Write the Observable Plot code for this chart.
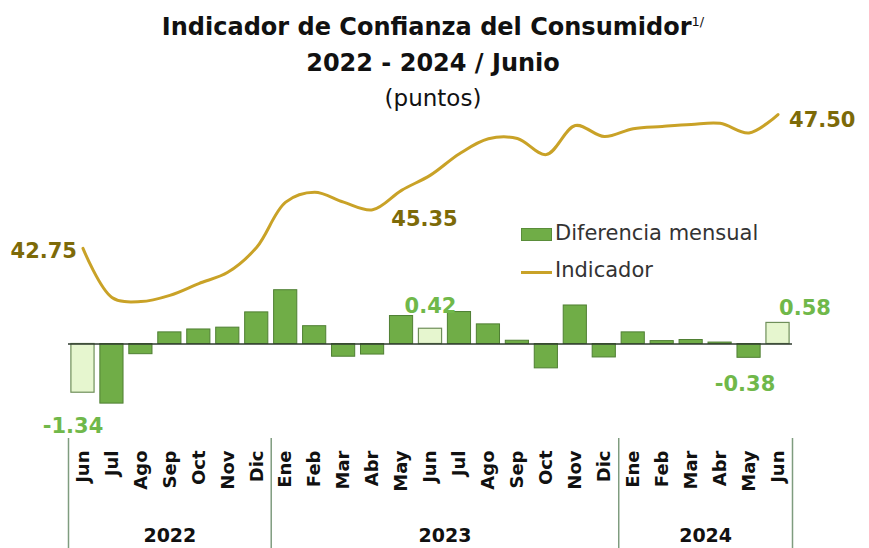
<!DOCTYPE html>
<html><head><meta charset="utf-8">
<script src="https://cdn.jsdelivr.net/npm/d3@7"></script>
<script src="https://cdn.jsdelivr.net/npm/@observablehq/plot@0.6"></script>
<style>
body{margin:0;background:#fff;}
#wrap{position:relative;width:869px;height:548px;overflow:hidden;}
#title{position:absolute;left:0;top:4px;width:866px;text-align:center;font-family:"DejaVu Sans",sans-serif;color:#111;}
#title .t{font-weight:bold;font-size:24px;line-height:36px;}
#title .s{font-size:23px;line-height:34px;}
#title sup{font-size:13px;vertical-align:9px;font-weight:normal;}
#chart{position:absolute;left:0;top:0;}
.lg{position:absolute;font-family:"DejaVu Sans",sans-serif;font-size:21px;color:#333;}
</style></head>
<body>
<div id="wrap">
  <div id="chart"></div>
  <div id="title">
    <div class="t">Indicador de Confianza del Consumidor<sup>1/</sup></div>
    <div class="t">2022 - 2024 / Junio</div>
    <div class="s">(puntos)</div>
  </div>
  <div class="lg" style="left:521px;top:228px;width:31px;height:13px;background:#70ad47;border:1px solid #5a8d3a;box-sizing:border-box;"></div>
  <div class="lg" style="left:555px;top:221px;">Diferencia mensual</div>
  <div class="lg" style="left:521px;top:271px;width:31px;height:3px;background:#c9a227;"></div>
  <div class="lg" style="left:555px;top:258px;">Indicador</div>
</div>
<script>
const months = ["Jun","Jul","Ago","Sep","Oct","Nov","Dic","Ene","Feb","Mar","Abr","May","Jun","Jul","Ago","Sep","Oct","Nov","Dic","Ene","Feb","Mar","Abr","May","Jun"];
const years = [2022,2022,2022,2022,2022,2022,2022,2023,2023,2023,2023,2023,2023,2023,2023,2023,2023,2023,2023,2024,2024,2024,2024,2024,2024];
const diferencia = [-1.34,-1.64,-0.28,0.32,0.40,0.45,0.87,1.48,0.49,-0.35,-0.29,0.77,0.42,0.88,0.54,0.09,-0.67,1.06,-0.37,0.32,0.08,0.11,0.04,-0.38,0.58];
const indicador = [42.75,41.01,40.86,41.08,41.50,41.90,42.79,44.39,44.74,44.39,44.12,44.81,45.35,46.11,46.64,46.65,46.08,47.11,46.72,47.00,47.08,47.15,47.19,46.85,47.50];
const yearLabels = ["2022","2023","2024"];

const data = months.map((m,i)=>({key:`${years[i]}-${m}`, month:m, year:years[i], diff:diferencia[i], ind:indicador[i], hl:m==="Jun"}));

const W=869,H=548,mL=68,mR=77,mT=100,mB=110;
const step=(W-mL-mR)/data.length;
const yDom=[-2.6,6.7];            // left axis (diferencia)
const rightDom=[36,48];           // right axis (indicador)
const toLeft=d3.scaleLinear().domain(rightDom).range(yDom);

const green="#70ad47", greenStroke="#4f7f33", light="#e6f6cf", lightStroke="#6f8f5a";
const gold="#c9a227", olive="#7d6a08", lblGreen="#70b84a";

const firstOfYear = yearLabels.map(y=>data.find(d=>String(d.year)===y));
const lastKey = data[data.length-1];
const yearMid = yearLabels.map(y=>{const g=data.filter(d=>String(d.year)===y);const n=g.length;return {year:y,key:g[Math.floor((n-1)/2)].key, odd:n%2===1};});

const lblInd = [
  {i:0, anchor:"end", dx:-6, dy:3},
  {i:12, anchor:"middle", dx:-6, dy:44},
  {i:24, anchor:"start", dx:11, dy:6}
];
const lblDiff = [
  {i:0, anchor:"middle", dx:-10, dy:34},
  {i:12, anchor:"middle", dx:0, dy:-22},
  {i:23, anchor:"middle", dx:-4, dy:26},
  {i:24, anchor:"middle", dx:27, dy:-15}
];

const font='"DejaVu Sans",sans-serif';
const plot = Plot.plot({
  width:W, height:H, marginLeft:mL, marginRight:mR, marginTop:mT, marginBottom:mB,
  x:{type:"band", domain:data.map(d=>d.key), paddingInner:0.2, paddingOuter:0.1, round:false, axis:null},
  y:{domain:yDom, axis:null},
  style:{background:"transparent", overflow:"visible"},
  marks:[
    Plot.barY(data.filter(d=>!d.hl), {x:"key", y:"diff", fill:green, stroke:greenStroke, strokeWidth:1}),
    Plot.barY(data.filter(d=>d.hl), {x:"key", y:"diff", fill:light, stroke:lightStroke, strokeWidth:1.2}),
    Plot.ruleY([0], {stroke:"#2f3b2f", strokeWidth:1.3}),
    Plot.line(data, {x:"key", y:d=>toLeft(d.ind), curve:"catmull-rom", stroke:gold, strokeWidth:3}),
    ...lblInd.map(l=>Plot.text([data[l.i]], {x:"key", y:d=>toLeft(d.ind), text:d=>d.ind.toFixed(2), textAnchor:l.anchor, dx:l.dx, dy:l.dy, fill:olive, fontSize:21, fontWeight:"bold", fontFamily:font})),
    ...lblDiff.map(l=>Plot.text([data[l.i]], {x:"key", y:"diff", text:d=>d.diff.toFixed(2), textAnchor:l.anchor, dx:l.dx, dy:l.dy, fill:lblGreen, fontSize:21, fontWeight:"bold", fontFamily:font})),
    Plot.text(data, {x:"key", text:"month", frameAnchor:"bottom", lineAnchor:"middle", rotate:-90, textAnchor:"end", dy:12, fontSize:18, fontWeight:"bold", fontFamily:font, fill:"#111", ariaLabel:"month-label"}),
    Plot.text(yearMid.filter(d=>d.odd), {x:"key", text:"year", frameAnchor:"bottom", lineAnchor:"middle", dy:97, fontSize:19, fontWeight:"bold", fontFamily:font, fill:"#111"}),
    Plot.text(yearMid.filter(d=>!d.odd), {x:"key", text:"year", frameAnchor:"bottom", lineAnchor:"middle", dx:step/2, dy:97, fontSize:19, fontWeight:"bold", fontFamily:font, fill:"#111"}),
    Plot.ruleX(firstOfYear, {x:"key", dx:-step/2, stroke:"#7f9c7f", strokeWidth:1.5, insetTop:H-mT-mB, insetBottom:-mB}),
    Plot.ruleX([lastKey], {x:"key", dx:step/2, stroke:"#7f9c7f", strokeWidth:1.5, insetTop:H-mT-mB, insetBottom:-mB})
  ]
});
// stretch month labels along their reading direction, as in the original
plot.querySelectorAll('g[aria-label="month-label"] text').forEach(t=>{
  const tr=t.getAttribute("transform");
  if(tr) t.setAttribute("transform", tr+" scale(1.3,1)");
});
document.getElementById("chart").appendChild(plot);
</script>
</body></html>
